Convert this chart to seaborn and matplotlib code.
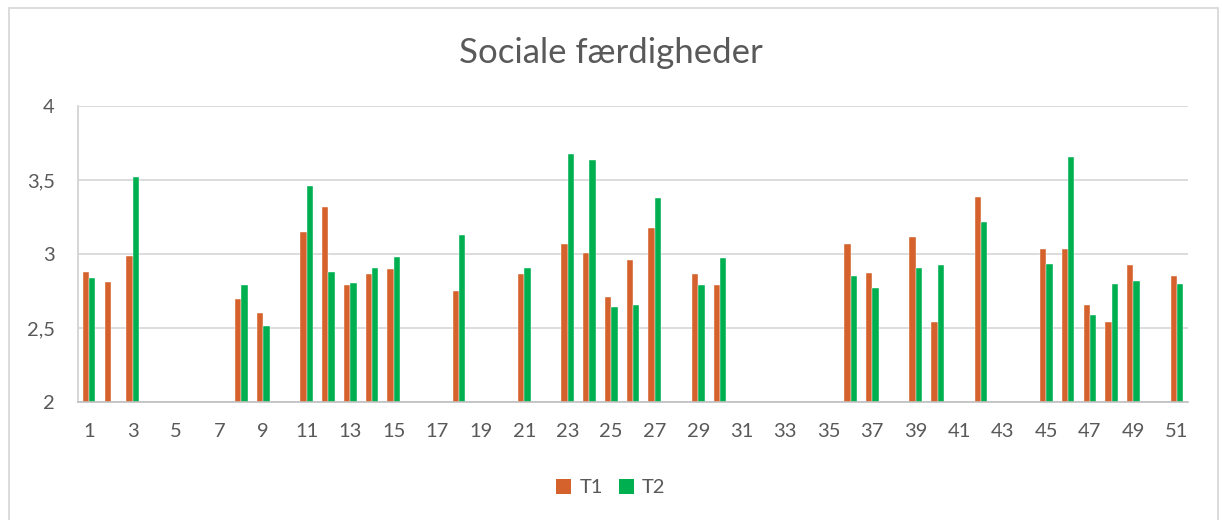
import numpy as np
import pandas as pd
import matplotlib
matplotlib.use("Agg")
import matplotlib.pyplot as plt
import seaborn as sns
from matplotlib.lines import Line2D
from matplotlib.ticker import FixedLocator, FixedFormatter

nan = np.nan
categories = [str(i) for i in range(1, 52)]
t1 = [2.88, 2.81, 2.99, nan, nan, nan, nan, 2.70, 2.60, nan,
      3.15, 3.32, 2.795, 2.865, 2.90, nan, nan, 2.75, nan, nan,
      2.87, nan, 3.07, 3.01, 2.71, 2.96, 3.18, nan, 2.87, 2.79,
      nan, nan, nan, nan, nan, 3.07, 2.875, nan, 3.12, 2.54,
      nan, 3.39, nan, nan, 3.035, 3.035, 2.66, 2.54, 2.93, nan,
      2.855]
t2 = [2.84, nan, 3.52, nan, nan, nan, nan, 2.795, 2.515, nan,
      3.46, 2.88, 2.805, 2.91, 2.98, nan, nan, 3.13, nan, nan,
      2.91, nan, 3.675, 3.635, 2.645, 2.66, 3.38, nan, 2.79, 2.975,
      nan, nan, nan, nan, nan, 2.85, 2.77, nan, 2.91, 2.93,
      nan, 3.22, nan, nan, 2.935, 3.655, 2.59, 2.80, 2.82, nan,
      2.80]
series = ["T1", "T2"]
colors = ["#D5622C", "#00B050"]
title = "Sociale færdigheder"
y_ticks = [2, 2.5, 3, 3.5, 4]
y_labels = ["2", "2,5", "3", "3,5", "4"]

df = pd.DataFrame({
    "cat": categories * 2,
    "serie": ["T1"] * len(categories) + ["T2"] * len(categories),
    "value": t1 + t2,
})

sns.set_style("white")
plt.rcParams["font.family"] = ["Lato", "DejaVu Sans"]

fig = plt.figure(figsize=(12.22, 5.2), dpi=100)
ax = fig.add_axes([78.3 / 1222, 1 - 402.3 / 520, (1187.7 - 78.3) / 1222, (402.3 - 106.3) / 520])

sns.barplot(data=df, x="cat", y="value", hue="serie", order=categories,
            hue_order=series, palette=colors, saturation=1, width=0.58, errorbar=None,
            edgecolor="white", linewidth=0.3, ax=ax, zorder=3)

ax.set_ylim(2, 4)
ax.set_xlim(-0.5, len(categories) - 0.5)
ax.yaxis.set_major_locator(FixedLocator(y_ticks))
ax.yaxis.set_major_formatter(FixedFormatter(y_labels))
ax.grid(axis="y", color="#D9D9D9", linewidth=1.3, zorder=0)
ax.set_axisbelow(True)

# x labels every other category, tick marks between categories
ax.set_xticks(range(0, len(categories), 2))
ax.set_xticklabels(categories[::2])
ax.set_xticks(np.arange(-0.5, len(categories), 1), minor=True)
ax.tick_params(axis="x", which="major", length=0, pad=15, labelsize=14.5, labelcolor="#595959")
ax.tick_params(axis="x", which="minor", length=7, width=1.2, color="#BFBFBF")
ax.tick_params(axis="y", length=0, pad=17, labelsize=14.5, labelcolor="#595959")
ax.set_xlabel("")
ax.set_ylabel("")

for s in ["top", "right"]:
    ax.spines[s].set_visible(False)
for s in ["left", "bottom"]:
    ax.spines[s].set_color("#BFBFBF")
    ax.spines[s].set_linewidth(1.2)
    ax.spines[s].set_zorder(4)
ax.spines["left"].set_color("#D0D0D0")

fig.text(0.5, 1 - 63 / 520, title, ha="center", va="baseline", fontsize=25, color="#595959")

leg = ax.legend(loc="center", bbox_to_anchor=(0.5, 1 - 487.5 / 520), bbox_transform=fig.transFigure,
                ncol=2, frameon=False, fontsize=14.5, handlelength=0.75, handleheight=0.75,
                columnspacing=0.8, handletextpad=0.4)
for t in leg.get_texts():
    t.set_color("#595959")
for h in leg.legend_handles:
    h.set_edgecolor("none")

# chart border (left, top, right; bottom edge runs below the image)
bx0, bx1, by0 = 8.5 / 1222, 1217.5 / 1222, 1 - 7.5 / 520
for xs, ys in [([bx0, bx0], [-0.1, by0]), ([bx0, bx1], [by0, by0]), ([bx1, bx1], [by0, -0.1])]:
    fig.add_artist(Line2D(xs, ys, transform=fig.transFigure, color="#D9D9D9", linewidth=1.3))

fig.savefig("out.png", dpi=100, facecolor="white")
